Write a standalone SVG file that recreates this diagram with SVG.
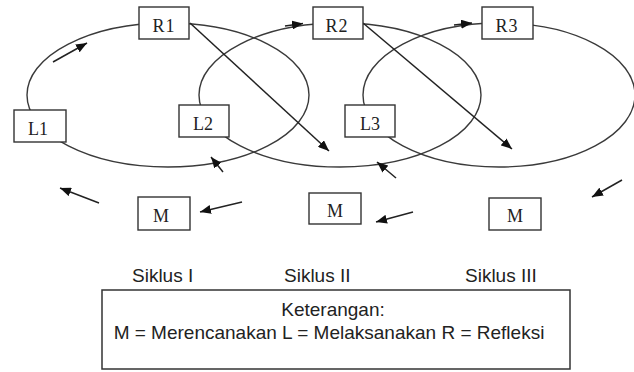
<svg xmlns="http://www.w3.org/2000/svg" width="634" height="372" viewBox="0 0 634 372">
<style>
.cyc{fill:none;stroke:#3a3a3a;stroke-width:1.4}
.box{fill:#fff;stroke:#333;stroke-width:1.4}
.lbl{font-family:"Liberation Serif","Times New Roman",serif;font-size:18px;fill:#222;text-anchor:middle}
.arr{fill:none;stroke:#222;stroke-width:1.5;marker-end:url(#ah)}
.cap{font-family:"Liberation Sans",Arial,sans-serif;font-size:19px;fill:#222}
</style>
<defs>
<marker id="ah" markerUnits="userSpaceOnUse" markerWidth="12" markerHeight="9" refX="11" refY="4.5" orient="auto">
<path d="M0,0 L11,4.5 L0,9 z" fill="#111"/>
</marker>
</defs>
<rect width="634" height="372" fill="#fff"/>
<g id="cycles">
<ellipse class="cyc" cx="168" cy="95" rx="141" ry="72"/>
<ellipse class="cyc" cx="340" cy="95" rx="141" ry="72"/>
<ellipse class="cyc" cx="499" cy="95" rx="136" ry="72"/>
</g>
<g id="connectors">
<line class="arr" x1="53" y1="62" x2="87" y2="43"/>
<line class="arr" x1="190" y1="23" x2="329" y2="151"/>
<line class="arr" x1="363" y1="23" x2="512" y2="149"/>
<line class="arr" x1="285" y1="26" x2="303" y2="23.5"/>
<line class="arr" x1="454" y1="25" x2="472" y2="23"/>
<line class="arr" x1="223" y1="172" x2="211" y2="157"/>
<line class="arr" x1="396" y1="178" x2="377" y2="162"/>
<line class="arr" x1="99" y1="203" x2="60" y2="188"/>
<line class="arr" x1="242" y1="202" x2="200" y2="212"/>
<line class="arr" x1="413" y1="212" x2="376" y2="222"/>
<line class="arr" x1="622" y1="180" x2="592" y2="197"/>
</g>
<g id="R1"><rect class="box" x="139" y="7" width="50" height="32"/><text class="lbl" x="164" y="32" letter-spacing="1">R1</text></g>
<g id="R2"><rect class="box" x="313" y="7" width="50" height="32"/><text class="lbl" x="337" y="32" letter-spacing="1">R2</text></g>
<g id="R3"><rect class="box" x="482" y="7" width="51" height="32"/><text class="lbl" x="507" y="32" letter-spacing="1">R3</text></g>
<g id="L1"><rect class="box" x="14" y="110" width="52" height="32"/><text class="lbl" x="38" y="135">L1</text></g>
<g id="L2"><rect class="box" x="179" y="105" width="50" height="32"/><text class="lbl" x="203" y="130">L2</text></g>
<g id="L3"><rect class="box" x="345" y="105" width="50" height="32"/><text class="lbl" x="370" y="130">L3</text></g>
<g id="M1"><rect class="box" x="138" y="197" width="52" height="33"/><text class="lbl" x="161" y="222">M</text></g>
<g id="M2"><rect class="box" x="309" y="193" width="52" height="31"/><text class="lbl" x="335" y="217">M</text></g>
<g id="M3"><rect class="box" x="489" y="198" width="52" height="32"/><text class="lbl" x="515" y="222">M</text></g>
<g id="labels">
<text class="cap" x="132" y="282">Siklus I</text>
<text class="cap" x="284" y="282">Siklus II</text>
<text class="cap" x="465" y="282">Siklus III</text>
</g>
<g id="legend">
<rect x="102" y="290" width="468" height="79" fill="#fff" stroke="#333" stroke-width="1.5"/>
<text class="cap" x="333" y="316" text-anchor="middle">Keterangan:</text>
<text class="cap" x="329" y="339" text-anchor="middle">M = Merencanakan L = Melaksanakan R = Refleksi</text>
</g>
</svg>
